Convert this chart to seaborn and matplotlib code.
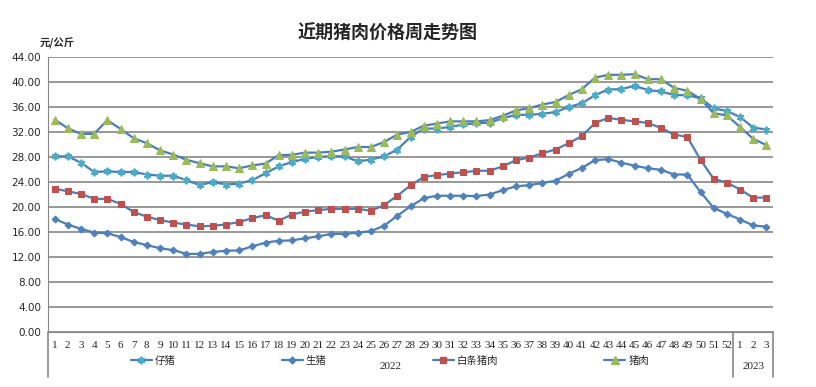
import numpy as np
import pandas as pd
import matplotlib
matplotlib.use("Agg")
import matplotlib.pyplot as plt
import seaborn as sns
from matplotlib.lines import Line2D

sns.set_style("white")
plt.rcParams['font.family'] = ['Noto Sans CJK SC', 'DejaVu Sans']

# week labels: 2022 weeks 1-52, 2023 weeks 1-3
weeks_2022 = list(range(1, 53))
weeks_2023 = [1, 2, 3]
week_labels = [str(w) for w in weeks_2022 + weeks_2023]

piglet = [28.1, 28.1, 27.1, 25.6, 25.7, 25.6, 25.6, 25.2, 25.0, 25.0,
          24.3, 23.5, 24.0, 23.6, 23.75, 24.3, 25.4, 26.5, 27.2, 27.7,
          28.0, 28.15, 28.1, 27.3, 27.6, 28.1, 29.2, 31.2, 32.55, 32.55,
          32.8, 33.2, 33.4, 33.5, 34.2, 34.75, 34.75, 34.9, 35.2, 36.0,
          36.6, 37.9, 38.8, 38.85, 39.4, 38.7, 38.5, 37.9, 37.9, 37.4,
          35.8, 35.35, 34.4, 32.7, 32.4]
hog = [18.1, 17.2, 16.5, 15.9, 15.8, 15.2, 14.4, 13.9, 13.4, 13.1,
       12.5, 12.5, 12.8, 13.0, 13.05, 13.7, 14.3, 14.6, 14.65, 15.0,
       15.3, 15.7, 15.7, 15.9, 16.15, 17.0, 18.6, 20.1, 21.4, 21.8,
       21.8, 21.8, 21.75, 22.0, 22.7, 23.3, 23.5, 23.85, 24.2, 25.3,
       26.25, 27.5, 27.65, 27.1, 26.6, 26.2, 25.95, 25.2, 25.2, 22.4,
       19.85, 18.9, 18.0, 17.05, 16.85]
carcass = [22.94, 22.5, 22.1, 21.3, 21.3, 20.5, 19.2, 18.45, 17.9, 17.5,
           17.2, 16.9, 17.0, 17.2, 17.6, 18.2, 18.7, 17.8, 18.8, 19.25,
           19.5, 19.7, 19.7, 19.7, 19.4, 20.3, 21.8, 23.45, 24.8, 25.1,
           25.35, 25.55, 25.8, 25.8, 26.5, 27.5, 27.9, 28.6, 29.2, 30.2,
           31.35, 33.45, 34.25, 33.95, 33.7, 33.45, 32.65, 31.6, 31.2, 27.55,
           24.5, 23.9, 22.8, 21.5, 21.5]
pork = [34.0, 32.6, 31.7, 31.7, 33.9, 32.5, 31.0, 30.2, 29.05, 28.4,
        27.55, 27.0, 26.5, 26.5, 26.2, 26.65, 26.95, 28.3, 28.35, 28.7,
        28.7, 28.85, 29.2, 29.6, 29.6, 30.4, 31.6, 32.0, 33.0, 33.35,
        33.7, 33.7, 33.7, 33.9, 34.6, 35.45, 35.8, 36.4, 36.8, 37.9,
        38.85, 40.7, 41.15, 41.15, 41.25, 40.45, 40.45, 39.05, 38.6, 37.3,
        35.0, 34.65, 32.8, 30.9, 29.9]

series_names = ["仔猪", "生猪", "白条猪肉", "猪肉"]
x = np.arange(len(week_labels))
df = pd.DataFrame({"x": x, "仔猪": piglet, "生猪": hog, "白条猪肉": carcass, "猪肉": pork})

line_color = "#4A7EBB"
styles = {
    "仔猪": dict(marker=(6, 2, 0), markersize=5.5, markeredgecolor="#4BACC6", markeredgewidth=1.3),
    "生猪": dict(marker="D", markersize=3.5, markerfacecolor="#4F81BD", markeredgecolor="#4F81BD"),
    "白条猪肉": dict(marker="s", markersize=5, markerfacecolor="#C0504D", markeredgecolor="#C0504D"),
    "猪肉": dict(marker="^", markersize=5.5, markerfacecolor="#9BBB59", markeredgecolor="#9BBB59"),
}

fig = plt.figure(figsize=(8.16, 3.87), dpi=100)
ax = fig.add_axes([48 / 816, 1 - 332 / 387, (773 - 48) / 816, (332 - 57) / 387])

for name in series_names:
    sns.lineplot(data=df, x="x", y=name, ax=ax, color=line_color, linewidth=1.6,
                 label=name, **styles[name])

ax.set_xlim(-0.5, len(x) - 0.5)
ax.set_ylim(0, 44)
ax.set_yticks(np.arange(0, 45, 4))
ax.set_yticklabels([f"{v:.2f}" for v in np.arange(0, 45, 4)], fontsize=7.5,
                   family="DejaVu Sans")
ax.set_xticks(x)
ax.set_xticklabels(week_labels, fontsize=8, family="Liberation Serif")
ax.tick_params(axis="x", length=3, direction="inout", color="#868686", pad=5)
ax.tick_params(axis="y", length=3, direction="out", color="#868686", pad=2)
ax.yaxis.grid(True, color="#868686", linewidth=1.2)
ax.set_xlabel("")
ax.set_ylabel("")
for s in ["top", "right"]:
    ax.spines[s].set_visible(False)
ax.spines["left"].set_color("#868686")
ax.spines["bottom"].set_color("#868686")
ax.get_legend().remove()

# multi-level category axis: separators and years
tr = ax.get_xaxis_transform()
for xs in [-0.5, 51.5, len(x) - 0.5]:
    ax.add_line(Line2D([xs, xs], [0, -0.164], transform=tr, color="#868686",
                       linewidth=1.2, clip_on=False))
ax.text(25.5, -0.127, "2022", transform=tr, ha="center", va="center",
        fontsize=8, family="Liberation Serif")
ax.text(53, -0.127, "2023", transform=tr, ha="center", va="center",
        fontsize=8, family="Liberation Serif")

handles = [Line2D([0], [0], color=line_color, linewidth=1.6, **styles[n]) for n in series_names]
fig.legend(handles, series_names, loc="center", bbox_to_anchor=(390 / 816, 1 - 361 / 387),
           ncol=4, frameon=False, fontsize=7.5, handlelength=2.0, handletextpad=0.3,
           columnspacing=10.2)

fig.text(388 / 816, 1 - 33 / 387, "近期猪肉价格周走势图", ha="center", va="center",
         fontsize=13, fontweight="bold")
fig.text(40 / 816, 1 - 43 / 387, "元/公斤", ha="left", va="center",
         fontsize=7.5, fontweight="bold", style="italic")

fig.savefig("out.png", dpi=100)
